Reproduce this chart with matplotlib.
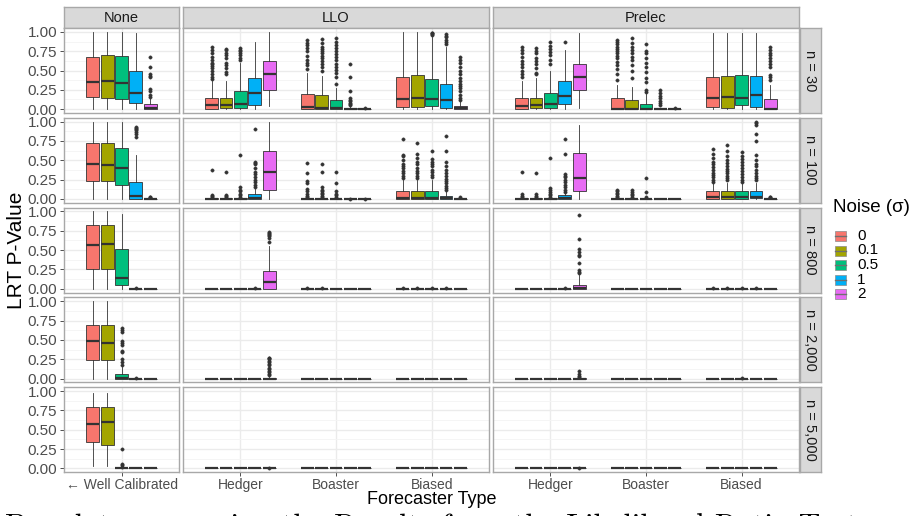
import numpy as np
import matplotlib.pyplot as plt
from matplotlib.patches import Rectangle

plt.rcParams['font.family'] = ['Liberation Sans', 'DejaVu Sans']

noise_levels = ['0', '0.1', '0.5', '1', '2']
noise_colors = ['#F8766D', '#A3A500', '#00BF7D', '#00B0F6', '#E76BF3']
sample_sizes = ['n = 30', 'n = 100', 'n = 800', 'n = 2,000', 'n = 5,000']
calib_types = ['None', 'LLO', 'Prelec']
forecasters = ['Hedger', 'Boaster', 'Biased']

# box stats per noise level: (whisker low, q1, median, q3, whisker high)
Z = (0, 0, 0, 0, 0)
E = [[], [], [], [], []]

none_30 = [(0, .16, .355, .68, 1), (0, .15, .365, .70, 1), (0, .13, .335, .69, 1),
           (0, .08, .21, .50, .99), (0, 0, .01, .06, .14)]
none_30_out = [[], [], [], [], [.67, .54, .46, .43, .41, .26, .24, .18, .16]]
none_100 = [(0, .235, .45, .72, 1), (0, .23, .44, .73, 1), (0, .18, .405, .66, 1),
            (0, .005, .04, .225, .57), (0, 0, 0, .005, .01)]
none_100_out = [[], [], [], [.93, .92, .91, .89, .87, .84, .80], [.02, .03]]
none_800 = [(0, .256, .56, .82, 1), (0, .255, .58, .82, 1), (0, .05, .145, .52, .965), Z, Z]
none_800_out = [[], [], [], [.005], []]
none_2000 = [(0, .243, .485, .69, 1), (0, .243, .463, .69, 1), (0, 0, .01, .06, .15), Z, Z]
none_2000_out = [[], [], [.65, .63, .60, .48, .46, .44, .35, .34, .25, .21, .18], [.005], []]
none_5000 = [(.03, .338, .57, .80, .98), (.03, .30, .597, .80, .98), Z, Z, Z]
none_5000_out = [[], [], [.25, .05, .04, .02], [], []]

# LLO / Prelec: one list of 5 boxes per forecaster (Hedger, Boaster, Biased)
llo_30 = [
    [(0, .005, .05, .15, .37), (0, .01, .05, .15, .36), (0, .02, .065, .24, .60),
     (0, .05, .21, .40, .87), (.04, .25, .46, .62, 1)],
    [(0, 0, .03, .19, .47), (0, 0, .02, .18, .43), (0, 0, .01, .12, .27),
     (0, 0, 0, .02, .04), (0, 0, 0, .005, .01)],
    [(0, .03, .13, .42, 1), (0, .03, .14, .44, 1), (0, .04, .128, .39, .94),
     (0, .02, .117, .33, .80), (0, 0, .01, .04, .10)],
]
llo_30_out = [
    [[.80, .76, .72, .68, .63, .60, .58, .56, .53, .50, .45, .42, .39],
     [.78, .76, .73, .70, .66, .60, .57, .53, .48, .45],
     [.79, .77, .75, .73, .70, .66, .63], [], []],
    [[.90, .86, .83, .79, .75, .69, .64, .60, .57, .52],
     [.91, .85, .80, .78, .75, .72, .69, .66, .62, .58, .54, .50],
     [.92, .87, .83, .79, .75, .71, .67, .63, .59, .55, .51, .47, .42, .33],
     [.59, .42, .24, .14, .12, .10, .08, .06, .05], [.02]],
    [[], [], [.99, .98, .97, .96], [.97, .95, .93, .90, .87, .84],
     [.67, .64, .60, .55, .50, .46, .40, .36, .33, .30, .27, .23, .18, .14, .12]],
]
prelec_30 = [
    [(0, 0, .04, .14, .36), (0, .01, .05, .15, .40), (0, .01, .07, .21, .50),
     (0, .06, .17, .36, .77), (.01, .25, .41, .59, .98)],
    [(0, 0, .005, .14, .31), (0, 0, .005, .117, .28), (0, 0, .005, .065, .19),
     (0, 0, 0, .005, .02), Z],
    [(0, .03, .15, .42, .98), (0, .02, .16, .43, .98), (0, .05, .15, .44, .98),
     (0, .03, .18, .43, .98), (0, 0, .005, .126, .31)],
]
prelec_30_out = [
    [[.80, .76, .72, .68, .62, .58, .54, .50, .46, .41],
     [.79, .75, .72, .66, .62, .58, .53, .47, .45],
     [.87, .82, .78, .74, .70, .64, .58], [.87], []],
    [[.90, .87, .84, .81, .78, .75, .72, .69, .66, .61, .57, .52, .45, .38],
     [.92, .85, .80, .76, .72, .67, .63, .57, .49, .40],
     [.84, .75, .72, .66, .60, .55, .48, .40, .35, .25, .22],
     [.25, .21, .17, .14, .11, .08, .05], [.01]],
    [[], [], [], [], [.80, .76, .73, .70, .66, .62, .58, .55, .44, .42, .38]],
]

llo_100 = [
    [(0, 0, 0, .01, .02), (0, 0, 0, .01, .02), (0, 0, 0, .01, .02),
     (0, 0, .01, .06, .13), (0, .12, .345, .62, 1)],
    [(0, 0, 0, .005, .01)] * 5,
    [(0, .005, .015, .10, .24), (0, .005, .015, .10, .24), (0, .005, .015, .10, .24),
     (0, 0, .01, .042, .10), (0, 0, 0, .005, .01)],
]
llo_100_out = [
    [[.38, .05, .04, .03], [.35, .05, .04, .03], [.57, .15, .12, .10, .07, .05, .03],
     [.91, .48, .46, .45, .40, .35, .32, .28, .25, .22, .18, .15], []],
    [[.46, .34, .23, .20, .13, .10, .06, .04, .03], [.45, .35, .15, .12, .10, .08, .06, .04, .03],
     [.35, .20, .10, .07, .05, .03], [.005], [.005]],
    [[.77, .57, .55, .50, .45, .43, .40, .36, .33, .30, .27],
     [.73, .58, .53, .48, .45, .40, .36, .33, .30, .27],
     [.62, .52, .48, .45, .42, .38, .35, .31, .28],
     [.82, .62, .48, .43, .38, .34, .30, .26, .23, .20, .17, .14, .12], [.02]],
]
prelec_100 = [
    [(0, 0, 0, .01, .02), (0, 0, 0, .01, .02), (0, 0, 0, .01, .02),
     (0, 0, .01, .05, .08), (0, .106, .277, .59, .957)],
    [(0, 0, 0, .005, .01)] * 5,
    [(0, .005, .02, .097, .20), (0, .005, .02, .10, .21), (0, .005, .025, .106, .21),
     (0, .01, .03, .10, .20), (0, 0, 0, .005, .01)],
]
prelec_100_out = [
    [[.35, .06, .04, .03], [.34, .06, .04, .03], [.525, .14, .11, .09, .07, .05, .03],
     [.77, .585, .32, .30, .28, .25, .22, .18, .15, .12, .09], []],
    [[.12, .10, .08, .06, .04, .02], [.11, .09, .07, .05, .03], [.277, .09, .03], [], []],
    [[.645, .58, .53, .48, .45, .41, .37, .34, .31, .28, .25, .22],
     [.70, .62, .56, .50, .46, .42, .39, .36, .33, .30, .27, .24],
     [.607, .55, .52, .48, .44, .40, .36, .32, .28, .25, .22],
     [1.0, .98, .96, .846, .75, .57, .50, .45, .42, .38, .34, .30, .27, .24], [.02, .03]],
]

llo_800 = [[Z, Z, Z, Z, (0, 0, .087, .23, .55)], [Z] * 5, [Z] * 5]
llo_800_out = [[[], [], [], [.005], [.74, .72, .71, .70, .68, .66, .60]],
               [[.005], [.005], [], [], []],
               [[.005], [.005], [.005], [.005], []]]
prelec_800 = [[Z, Z, Z, Z, (0, 0, .01, .05, .18)], [Z] * 5, [Z] * 5]
prelec_800_out = [[[], [], [], [.005], [.96, .65, .515, .48, .44, .42, .33, .24, .22, .20]],
                  E,
                  [[.005], [.005], [.005], [.005], []]]

llo_2000 = [[Z, Z, Z, Z, (0, 0, 0, .01, .02)], [Z] * 5, [Z] * 5]
llo_2000_out = [[[], [], [], [], [.27, .26, .25, .23, .21, .19, .17, .14, .12, .10, .08, .06, .04]],
                E, E]
prelec_2000 = [[Z, Z, Z, Z, (0, 0, 0, .005, .01)], [Z] * 5, [Z] * 5]
prelec_2000_out = [[[], [], [], [], [.10, .06, .03, .02]], E, [[], [], [.005], [], []]]

llo_5000 = [[Z] * 5, [Z] * 5, [Z] * 5]
llo_5000_out = [[[], [], [], [], [.005]], E, E]
prelec_5000 = [[Z] * 5, [Z] * 5, [Z] * 5]
prelec_5000_out = [[[], [], [], [], [.005]], E, E]

none_rows = [(none_30, none_30_out), (none_100, none_100_out), (none_800, none_800_out),
             (none_2000, none_2000_out), (none_5000, none_5000_out)]
llo_rows = [(llo_30, llo_30_out), (llo_100, llo_100_out), (llo_800, llo_800_out),
            (llo_2000, llo_2000_out), (llo_5000, llo_5000_out)]
prelec_rows = [(prelec_30, prelec_30_out), (prelec_100, prelec_100_out),
               (prelec_800, prelec_800_out), (prelec_2000, prelec_2000_out),
               (prelec_5000, prelec_5000_out)]

W, H = 914, 516
fig = plt.figure(figsize=(W / 100, H / 100), dpi=100)


def px_axes(x0, y0, w, h):
    return fig.add_axes([x0 / W, 1 - (y0 + h) / H, w / W, h / H])


border = '#A8A8A8'
ink = '#333333'


def draw_group(ax, xc, boxes, fliers):
    stats = [dict(whislo=b[0], q1=b[1], med=b[2], q3=b[3], whishi=b[4], fliers=f)
             for b, f in zip(boxes, fliers)]
    pos = xc + (np.arange(5) - 2) * 0.15
    bp = ax.bxp(stats, positions=pos, widths=0.135, patch_artist=True, showcaps=False,
                manage_ticks=False,
                boxprops=dict(edgecolor=ink, linewidth=0.6),
                medianprops=dict(color=ink, linewidth=1.6, solid_capstyle='butt'),
                whiskerprops=dict(color=ink, linewidth=0.6),
                flierprops=dict(marker='o', markersize=2.4, markerfacecolor=ink,
                                markeredgecolor=ink, markeredgewidth=0.3))
    for patch, c in zip(bp['boxes'], noise_colors):
        patch.set_facecolor(c)


def strip(x0, y0, w, h, label, rot):
    sax = px_axes(x0, y0, w, h)
    sax.set_facecolor('#D9D9D9')
    sax.set_xticks([])
    sax.set_yticks([])
    for s in sax.spines.values():
        s.set_color(border)
        s.set_linewidth(1.0)
    sax.text(0.5, 0.5 if rot else 0.45, label, rotation=rot, ha='center', va='center',
             fontsize=10.5, color='#1A1A1A', transform=sax.transAxes)


col_x = [64, 183, 493]
col_w = [115, 306, 306]
row_h = 85
row_top = [28 + i * 89.8 for i in range(5)]

for c, name in enumerate(calib_types):
    strip(col_x[c], 6.5, col_w[c], 21.5, name, 0)

    for r in range(5):
        ax = px_axes(col_x[c], row_top[r], col_w[c], row_h)
        ngroups = 1 if c == 0 else 3
        ax.set_xlim(0.4, ngroups + 0.6)
        ax.set_ylim(-0.05, 1.05)
        ax.set_yticks([0, .25, .5, .75, 1])
        ax.set_yticks([.125, .375, .625, .875], minor=True)
        ax.set_xticks(np.arange(1, ngroups + 1))
        ax.grid(which='major', color='#EBEBEB', linewidth=1.0)
        ax.grid(which='minor', axis='y', color='#F4F4F4', linewidth=0.6)
        ax.set_axisbelow(True)
        for s in ax.spines.values():
            s.set_color(border)
            s.set_linewidth(1.0)
        ax.tick_params(which='minor', length=0)
        ax.tick_params(axis='both', colors=ink, length=3, width=0.6, labelsize=11,
                       labelcolor='#4D4D4D', pad=2)
        if c == 0:
            ax.set_yticklabels(['0.00', '0.25', '0.50', '0.75', '1.00'])
        else:
            ax.tick_params(axis='y', length=0, labelleft=False)
        if r == 4:
            labels = ['\u2190 Well Calibrated'] if c == 0 else forecasters
            ax.set_xticklabels(labels, fontsize=10)
            ax.tick_params(axis='x', pad=1.5)
        else:
            ax.tick_params(axis='x', length=0, labelbottom=False)

        if c == 0:
            boxes, fl = none_rows[r]
            draw_group(ax, 1, boxes, fl)
        else:
            boxes, fl = (llo_rows if c == 1 else prelec_rows)[r]
            for g in range(3):
                draw_group(ax, g + 1, boxes[g], fl[g])

        if c == 2:
            strip(799.5, row_top[r], 21.5, row_h, sample_sizes[r], -90)

fig.text(17 / W, 1 - 250 / H, 'LRT P-Value', rotation=90, ha='center', va='center',
         fontsize=15, color='black')
fig.text(431.5 / W, 1 - 500 / H, 'Forecaster Type', ha='center', va='center',
         fontsize=13, color='black')

# legend drawn in pixel coordinates
lax = px_axes(826, 190, 88, 115)
lax.set_xlim(0, 88)
lax.set_ylim(115, 0)
lax.axis('off')
lax.text(7, 17, 'Noise (\u03c3)', ha='left', va='center', fontsize=13.5, color='black')
for i, (lab, col) in enumerate(zip(noise_levels, noise_colors)):
    yc = 46 + 14.5 * i
    lax.add_patch(Rectangle((9, yc - 5), 11, 10, facecolor=col, edgecolor='#8C8C8C',
                            linewidth=0.5))
    lax.plot([9, 20], [yc, yc], color='#6F6F6F', linewidth=1.0)
    lax.text(31, yc, lab, ha='left', va='center', fontsize=11, color='black')

# caption of the page below the figure, cut off by the screenshot
fig.text(5 / W, 1 - 535 / H, 'Boxplots comparing the Results from the Likelihood Ratio Test',
         ha='left', va='baseline', fontsize=22, family='cmr10', color='black')

fig.savefig('out.png', dpi=100)
